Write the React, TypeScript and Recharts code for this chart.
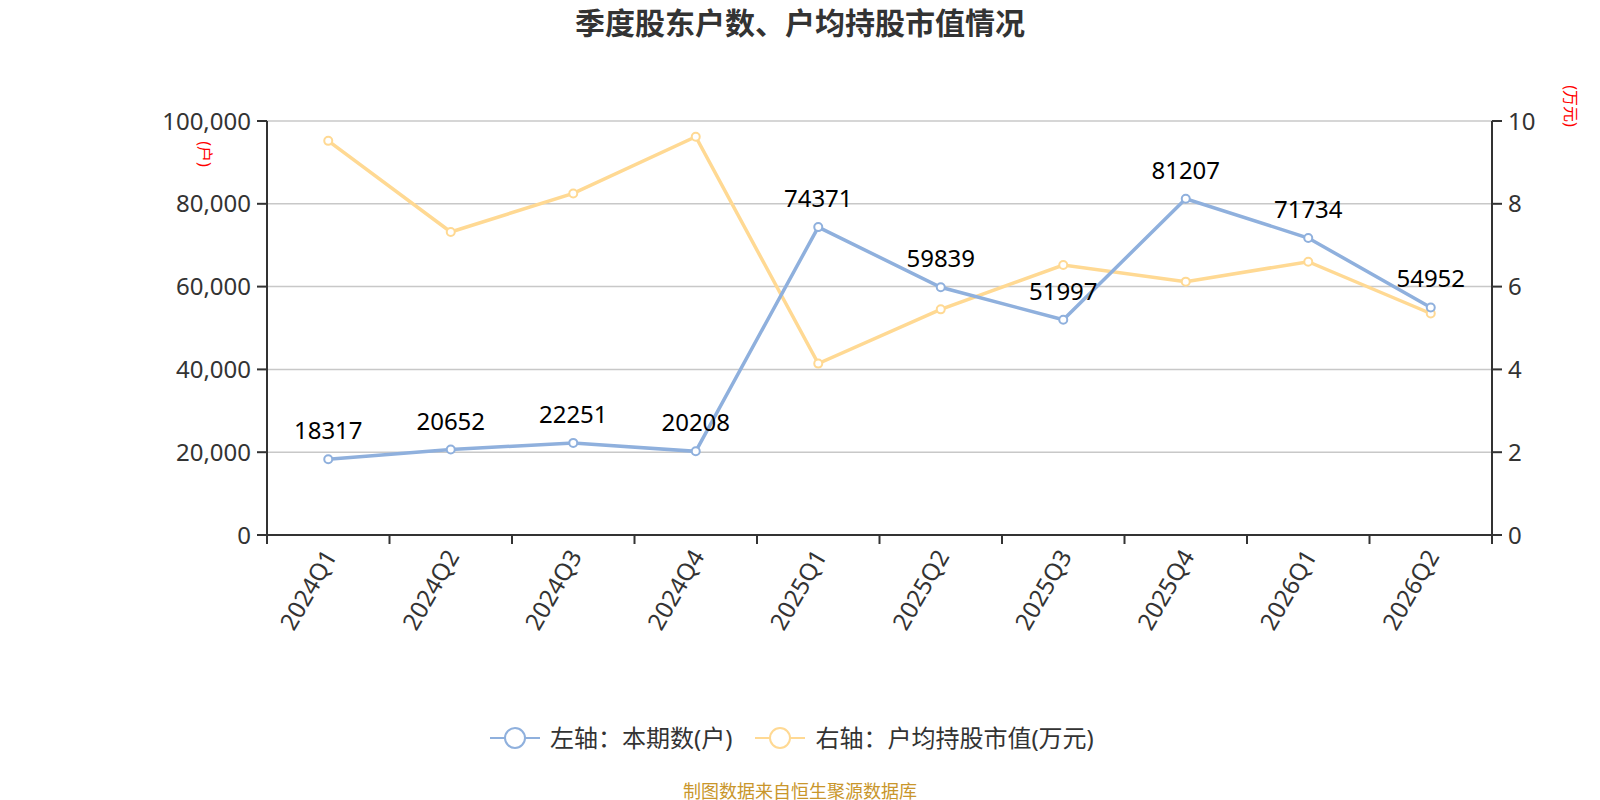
import { CartesianGrid, LabelList, Line, LineChart, XAxis, YAxis } from 'recharts';

const QUARTERS = ['2024Q1', '2024Q2', '2024Q3', '2024Q4', '2025Q1', '2025Q2', '2025Q3', '2025Q4', '2026Q1', '2026Q2'];
const HOLDERS = [18317, 20652, 22251, 20208, 74371, 59839, 51997, 81207, 71734, 54952];
const AVG_VALUE = [9.52, 7.32, 8.25, 9.62, 4.14, 5.45, 6.52, 6.12, 6.6, 5.35];
const LEFT_TICKS = [0, 20000, 40000, 60000, 80000, 100000];
const RIGHT_TICKS = [0, 2, 4, 6, 8, 10];

const BLUE = '#8fb0dd';
const YELLOW = '#ffd993';
const AXIS = '#333';
const FONT = '"Noto Sans", "Noto Sans CJK SC", sans-serif';

const W = 1600;
const H = 800;
const MARGIN = { top: 121, right: 8, left: 167, bottom: 165 };
const Y_WIDTH = 100;
const PLOT_W = W - MARGIN.left - MARGIN.right - 2 * Y_WIDTH;
const BAND = PLOT_W / QUARTERS.length;

const data = QUARTERS.map((q, i) => ({ q, holders: HOLDERS[i], avg: AVG_VALUE[i] }));

function XTick(props: any) {
  const { x, y, payload, index } = props;
  const half = BAND / 2;
  const tx = x + 2;
  const ty = y + 7;
  return (
    <g>
      <line x1={x - half} x2={x - half} y1={y - 10} y2={y - 1} stroke={AXIS} strokeWidth={2} />
      {index === QUARTERS.length - 1 && (
        <line x1={x + half} x2={x + half} y1={y - 10} y2={y - 1} stroke={AXIS} strokeWidth={2} />
      )}
      <text
        x={tx}
        y={ty}
        dy="0.35em"
        textAnchor="end"
        transform={`rotate(-60, ${tx}, ${ty})`}
        fill={AXIS}
        fontSize={24}
        fontFamily={FONT}
      >
        {payload.value}
      </text>
    </g>
  );
}

function LegendIcon({ color }: { color: string }) {
  return (
    <svg width={50} height={26} style={{ display: 'block' }}>
      <line x1={0} x2={50} y1={13} y2={13} stroke={color} strokeWidth={2} />
      <circle cx={25} cy={13} r={10} fill="#fff" stroke={color} strokeWidth={2} />
    </svg>
  );
}

export default function App() {
  return (
    <div style={{ position: 'absolute', left: 0, top: 0, width: W, height: H, background: '#fff', fontFamily: FONT }}>
      <div
        style={{
          position: 'absolute',
          left: 0,
          top: 4,
          width: W,
          textAlign: 'center',
          fontSize: 30,
          fontWeight: 'bold',
          color: '#333',
          lineHeight: '38px',
        }}
      >
        季度股东户数、户均持股市值情况
      </div>

      <LineChart width={W} height={H} data={data} margin={MARGIN}>
        <CartesianGrid yAxisId="left" vertical={false} stroke="#c8c8c8" strokeWidth={1.5} />
        <XAxis
          dataKey="q"
          height={100}
          padding={{ left: BAND / 2, right: BAND / 2 }}
          axisLine={{ stroke: AXIS, strokeWidth: 2 }}
          tickLine={false}
          tickSize={0}
          tickMargin={10}
          interval={0}
          tick={<XTick />}
        />
        <YAxis
          yAxisId="left"
          width={Y_WIDTH}
          domain={[0, 100000]}
          ticks={LEFT_TICKS}
          axisLine={{ stroke: AXIS, strokeWidth: 2 }}
          tickLine={{ stroke: AXIS, strokeWidth: 2 }}
          tickSize={10}
          tickMargin={6}
          tick={{ fill: AXIS, fontSize: 24, fontFamily: FONT }}
          tickFormatter={(v) => Number(v).toLocaleString('en-US')}
        />
        <YAxis
          yAxisId="right"
          orientation="right"
          width={Y_WIDTH}
          domain={[0, 10]}
          ticks={RIGHT_TICKS}
          axisLine={{ stroke: AXIS, strokeWidth: 2 }}
          tickLine={{ stroke: AXIS, strokeWidth: 2 }}
          tickSize={10}
          tickMargin={6}
          tick={{ fill: AXIS, fontSize: 24, fontFamily: FONT, textAnchor: 'start' }}
        />
        <Line
          yAxisId="right"
          dataKey="avg"
          stroke={YELLOW}
          strokeWidth={3.5}
          dot={{ r: 4, fill: '#fff', stroke: YELLOW, strokeWidth: 2 }}
          activeDot={false}
          isAnimationActive={false}
        />
        <Line
          yAxisId="left"
          dataKey="holders"
          stroke={BLUE}
          strokeWidth={3.5}
          dot={{ r: 4, fill: '#fff', stroke: BLUE, strokeWidth: 2 }}
          activeDot={false}
          isAnimationActive={false}
        >
          <LabelList dataKey="holders" position="top" offset={20} fill="#000" fontSize={24} fontFamily={FONT} />
        </Line>
      </LineChart>

      <div
        style={{
          position: 'absolute',
          left: 205 - 20,
          top: 154 - 10,
          width: 40,
          height: 20,
          lineHeight: '20px',
          textAlign: 'center',
          fontSize: 16,
          color: 'red',
          transform: 'rotate(90deg)',
        }}
      >
        (户)
      </div>
      <div
        style={{
          position: 'absolute',
          left: 1571 - 30,
          top: 106 - 10,
          width: 60,
          height: 20,
          lineHeight: '20px',
          textAlign: 'center',
          fontSize: 16,
          color: 'red',
          transform: 'rotate(90deg)',
        }}
      >
        (万元)
      </div>

      <div
        style={{
          position: 'absolute',
          left: 490,
          top: 722,
          display: 'flex',
          alignItems: 'center',
          fontSize: 24,
          color: '#333',
          lineHeight: '32px',
          whiteSpace: 'nowrap',
        }}
      >
        <div style={{ display: 'flex', alignItems: 'center', marginRight: 23 }}>
          <LegendIcon color={BLUE} />
          <span style={{ marginLeft: 10 }}>左轴：本期数(户)</span>
        </div>
        <div style={{ display: 'flex', alignItems: 'center' }}>
          <LegendIcon color={YELLOW} />
          <span style={{ marginLeft: 10 }}>右轴：户均持股市值(万元)</span>
        </div>
      </div>

      <div
        style={{
          position: 'absolute',
          left: 0,
          top: 780,
          width: W,
          textAlign: 'center',
          fontSize: 18,
          color: '#c9962b',
          lineHeight: '22px',
        }}
      >
        制图数据来自恒生聚源数据库
      </div>
    </div>
  );
}
